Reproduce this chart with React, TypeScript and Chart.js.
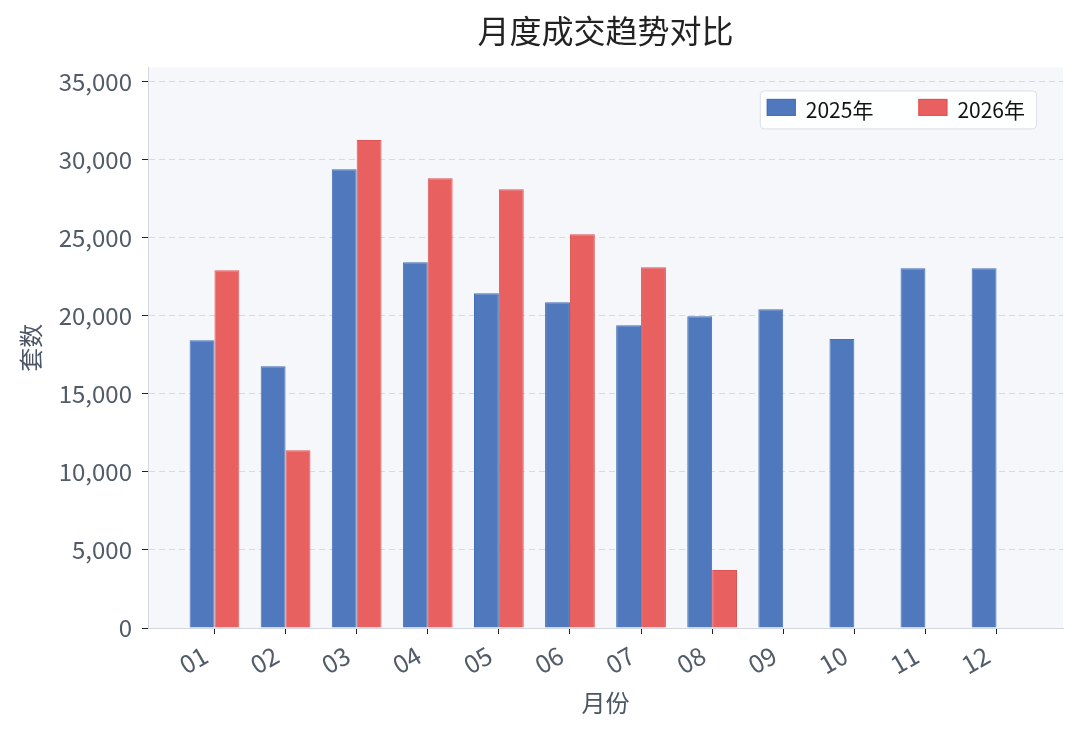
import React, { useEffect, useRef } from 'react';
import { Chart, registerables } from 'chart.js';

Chart.register(...registerables);

const months = ['01', '02', '03', '04', '05', '06', '07', '08', '09', '10', '11', '12'];
const sales2025 = [18430, 16770, 29380, 23420, 21440, 20860, 19390, 19970, 20420, 18500, 23040, 23040];
const sales2026 = [22910, 11390, 31250, 28800, 28100, 25220, 23100, 3710];
const yTicks = [0, 5000, 10000, 15000, 20000, 25000, 30000, 35000];
const yMax = 35900;

const FONT = '"Noto Sans CJK SC", "Noto Sans", sans-serif';

const plotBg = {
  id: 'plotBg',
  beforeDraw(chart: any) {
    const { ctx, chartArea: a } = chart;
    ctx.save();
    ctx.fillStyle = '#f5f7fa';
    ctx.fillRect(a.left, a.top, a.right - a.left, a.bottom - a.top);
    ctx.restore();
  },
};

// legend box inside the plot, top right
const innerLegend = {
  id: 'innerLegend',
  afterDraw(chart: any) {
    const { ctx, chartArea: a } = chart;
    const sets = chart.data.datasets;
    ctx.save();
    ctx.font = `21px ${FONT}`;
    const sw = 29, sh = 17, gap = 10, itemGap = 45, padL = 7, padR = 11;
    const widths = sets.map((d: any) => ctx.measureText(d.label).width);
    let w = padL + padR;
    widths.forEach((tw: number, i: number) => { w += sw + gap + tw + (i < sets.length - 1 ? itemGap : 0); });
    const h = 38;
    const x0 = a.right - 27 - w;
    const y0 = a.top + 23;
    ctx.fillStyle = 'rgba(255,255,255,0.9)';
    ctx.strokeStyle = '#dcdfe4';
    ctx.lineWidth = 1;
    ctx.beginPath();
    ctx.roundRect(x0 + 0.5, y0 + 0.5, w, h, 4);
    ctx.fill();
    ctx.stroke();
    let x = x0 + padL;
    const cy = y0 + h / 2;
    sets.forEach((d: any, i: number) => {
      ctx.fillStyle = d.backgroundColor;
      ctx.fillRect(x, cy - sh / 2 - 2, sw, sh);
      ctx.strokeStyle = d.borderColor;
      ctx.strokeRect(x + 0.5, cy - sh / 2 - 1.5, sw - 1, sh - 1);
      ctx.fillStyle = '#111111';
      ctx.textBaseline = 'middle';
      ctx.textAlign = 'left';
      ctx.fillText(d.label, x + sw + gap, cy + 1);
      x += sw + gap + widths[i] + itemGap;
    });
    ctx.restore();
  },
};

function BarCompare() {
  const canvasRef = useRef<HTMLCanvasElement | null>(null);
  useEffect(() => {
    if (!canvasRef.current) return;
    const c = new Chart(canvasRef.current, {
      type: 'bar',
      data: {
        datasets: [
          {
            label: '2025年',
            data: sales2025.map((v, i) => ({ x: i, y: v })),
            backgroundColor: '#4f78bd',
            borderColor: '#456fb5',
            borderWidth: 1,
          },
          {
            label: '2026年',
            data: sales2026.map((v, i) => ({ x: i, y: v })),
            backgroundColor: '#e8605f',
            borderColor: '#df5556',
            borderWidth: 1,
          },
        ],
      },
      options: {
        animation: false,
        responsive: true,
        maintainAspectRatio: false,
        categoryPercentage: 0.7,
        barPercentage: 1,
        layout: { padding: { left: 0, right: 17, top: 0, bottom: 0 } },
        scales: {
          x: {
            type: 'linear',
            offset: false,
            min: -0.935,
            max: months.length - 1 + 0.935,
            afterBuildTicks: (s: any) => { s.ticks = months.map((_, i) => ({ value: i })); },
            afterFit: (s: any) => { s.height = 107; },
            ticks: {
              callback: (v: any) => months[v] ?? '',
              minRotation: 30,
              maxRotation: 30,
              padding: 6,
              labelOffset: -9,
              color: '#525b68',
              font: { family: FONT, size: 25 },
            },
            grid: { offset: false, drawOnChartArea: false, tickLength: 6, tickColor: '#222', tickBorderDash: [] },
            border: { color: '#d3d8de', width: 1 },
            title: {
              display: true,
              text: '月份',
              color: '#4b5563',
              font: { family: FONT, size: 24 },
              padding: { top: 0, bottom: 18 },
            },
          },
          y: {
            min: 0,
            max: yMax,
            afterBuildTicks: (s: any) => { s.ticks = yTicks.map((v) => ({ value: v })); },
            afterFit: (s: any) => { s.width = 148; },
            ticks: {
              callback: (v: any) => Number(v).toLocaleString('en-US'),
              padding: 10,
              color: '#525b68',
              font: { family: FONT, size: 24 },
            },
            grid: { color: '#d6dbe1', lineWidth: 1, tickLength: 6, tickColor: '#222', tickBorderDash: [] },
            border: { color: '#d3d8de', width: 1, dash: [6, 4] },
            title: {
              display: true,
              text: '套数',
              color: '#4b5563',
              font: { family: FONT, size: 24 },
              padding: { top: 16, bottom: 0 },
            },
          },
        },
        plugins: {
          legend: { display: false },
          tooltip: { enabled: false },
          title: {
            display: true,
            text: '月度成交趋势对比',
            fullSize: false,
            color: '#222222',
            font: { family: FONT, size: 32, weight: 'normal' },
            padding: { top: 12, bottom: 17 },
          },
        },
      },
      plugins: [plotBg, innerLegend],
    } as any);
    return () => { c.destroy(); };
  }, []);
  return <canvas ref={canvasRef} />;
}

export default function App() {
  useEffect(() => { document.body.style.margin = '0'; }, []);
  return (
    <div style={{ width: 1080, height: 735, position: 'relative', background: '#ffffff' }}>
      <BarCompare />
    </div>
  );
}
